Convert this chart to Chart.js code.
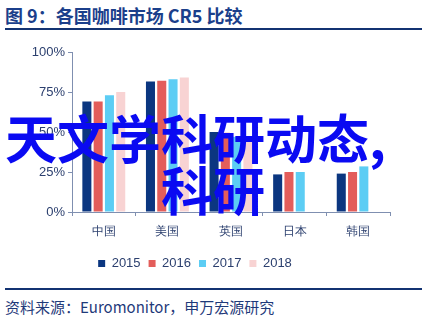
<!DOCTYPE html>
<html>
<head>
<meta charset="utf-8">
<script src="https://cdn.jsdelivr.net/npm/chart.js@4"></script>
<style>
    html, body { margin: 0; padding: 0; background: #fff; }
    body { width: 429px; height: 319px; position: relative; overflow: hidden; font-family: 'Liberation Sans', 'Noto Sans CJK SC', sans-serif; }
    #title { position: absolute; left: 5px; top: 2px; font: bold 18px 'Noto Sans CJK SC', sans-serif; color: #1b3f8b; white-space: nowrap; }
    #titleLine { position: absolute; left: 5px; top: 28px; width: 417px; height: 2px; background: #133372; }
    #chartBox { position: absolute; left: 0; top: 34px; width: 429px; height: 246px; }
    #bottomLine { position: absolute; left: 5px; top: 288px; width: 417px; height: 2px; background: #133372; }
    #source { position: absolute; left: 5px; top: 296px; font: 15px 'Noto Sans CJK SC', sans-serif; color: #1f3a7a; white-space: nowrap; }
    .mark { position: absolute; font: bold 52px 'Noto Sans CJK SC', sans-serif; color: #0a0af2; line-height: 52px; white-space: nowrap; z-index: 5; }
</style>
</head>
<body>
<div id="title">图 9：各国咖啡市场 CR5 比较</div>
<div id="titleLine"></div>
<div id="chartBox"><canvas id="cr5Chart" width="429" height="246"></canvas></div>
<div id="bottomLine"></div>
<div id="source">资料来源：Euromonitor，申万宏源研究</div>
<div class="mark" style="left:5px; top:111px;">天文学科研动态,</div>
<div class="mark" style="left:161px; top:163px;">科研</div>

<script>
// 数据
const countries = ['中国', '美国', '英国', '日本', '韩国'];
const years = ['2015', '2016', '2017', '2018'];
const cr5_2015 = [69, 81.5, 50, 23.5, 24];
const cr5_2016 = [69, 82, 49.5, 25, 25];
const cr5_2017 = [73, 83, 47, 25, 28.5];
const cr5_2018 = [75, 84, 45, null, null];
const yTicks = [0, 25, 50, 75, 100];

const barColors = ['#0b3680', '#e35d5a', '#5ccdf4', '#f8d3d3'];
const seriesList = [cr5_2015, cr5_2016, cr5_2017, cr5_2018];

const axisColor = '#7f8fb0';
const textColor = '#2b3f6e';

const ctx = document.getElementById('cr5Chart');
new Chart(ctx, {
    type: 'bar',
    data: {
        labels: countries,
        datasets: years.map((y, i) => ({
            label: y,
            data: seriesList[i],
            backgroundColor: barColors[i],
            borderWidth: 0,
            barPercentage: 0.8,
            categoryPercentage: 0.71
        }))
    },
    options: {
        responsive: false,
        animation: false,
        layout: { padding: { left: 0, right: 39, top: 18, bottom: 0 } },
        scales: {
            x: {
                grid: { display: true, offset: true, drawOnChartArea: false, drawTicks: true, tickLength: 4, color: axisColor },
                border: { color: axisColor, width: 1 },
                ticks: { color: textColor, font: { size: 12 }, padding: 8 },
                afterFit: (scale) => { scale.height = 37; }
            },
            y: {
                min: 0,
                max: 100,
                afterBuildTicks: (scale) => { scale.ticks = yTicks.map(v => ({ value: v })); },
                grid: { display: true, drawOnChartArea: false, drawTicks: true, tickLength: 4, color: axisColor },
                border: { color: axisColor, width: 1 },
                ticks: { color: textColor, font: { size: 13 }, padding: 3, callback: v => v + '%' },
                afterFit: (scale) => { scale.width = 72; }
            }
        },
        plugins: {
            legend: {
                position: 'bottom',
                labels: { boxWidth: 7, boxHeight: 7, color: textColor, font: { size: 13 }, padding: 8 }
            },
            tooltip: { enabled: false }
        }
    }
});
</script>
</body>
</html>
